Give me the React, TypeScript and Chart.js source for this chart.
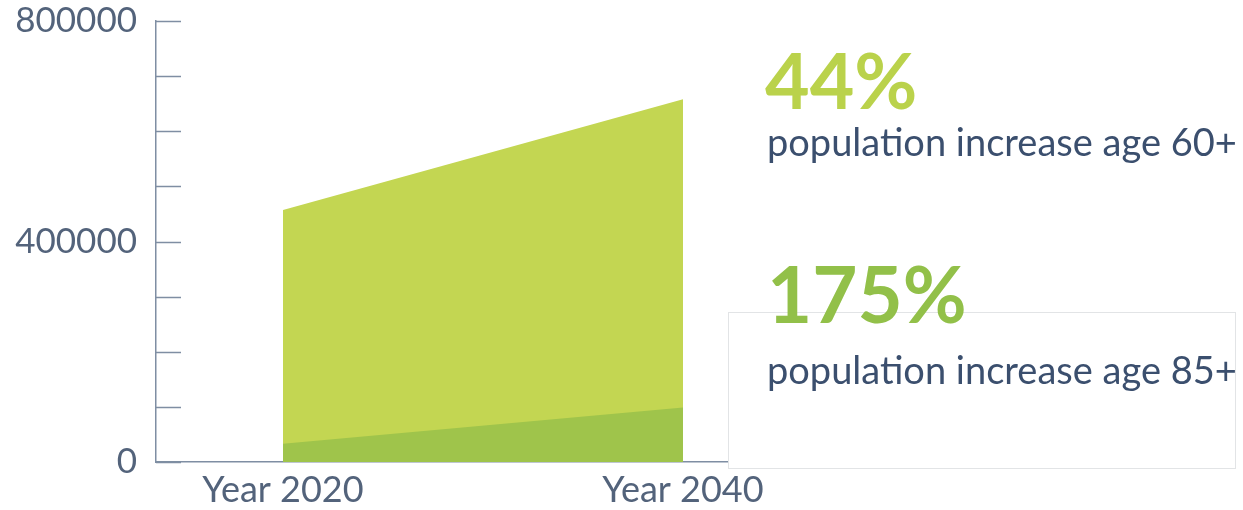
import React, { useEffect, useRef } from "react";
import { Chart, registerables } from "chart.js";

Chart.register(...registerables);

// ---- data ----
const years = [2020, 2040];
const age60Plus = [457000, 658000];
const age85Plus = [33000, 99000];
const yTicks = [0, 400000, 800000];
const xLabelPrefix = "Year ";
const increase60 = "44%";
const increase85 = "175%";
const caption60 = "population increase age 60+";
const caption85 = "population increase age 85+";

const FONT = "Lato, 'Open Sans', sans-serif";
const AXIS = "#7f8ea3";
const LABEL = "#53637b";
const NAVY = "#3b4f6e";

const insideTicks = {
  id: "insideTicks",
  afterDatasetsDraw(chart: any) {
    const { ctx, chartArea } = chart;
    const ys = chart.scales.y;
    ctx.save();
    ctx.strokeStyle = AXIS;
    ctx.lineWidth = 1.5;
    ys.ticks.forEach((t: any) => {
      const py = Math.round(ys.getPixelForValue(t.value)) + 0.5;
      ctx.beginPath();
      ctx.moveTo(chartArea.left, py);
      ctx.lineTo(chartArea.left + 25, py);
      ctx.stroke();
    });
    ctx.restore();
  },
};

const annotations = {
  id: "annotations",
  afterDraw(chart: any) {
    const { ctx } = chart;
    ctx.save();
    // box
    ctx.strokeStyle = "#e2e4e6";
    ctx.lineWidth = 1;
    ctx.strokeRect(728.5, 312.5, 507, 156);
    ctx.textAlign = "left";
    ctx.textBaseline = "alphabetic";
    ctx.fillStyle = "#bad24b";
    ctx.font = `bold 77px ${FONT}`;
    ctx.fillText(increase60, 765, 109);
    ctx.fillStyle = NAVY;
    ctx.font = `38px ${FONT}`;
    ctx.fillText(caption60, 767, 156);
    ctx.fillStyle = "#92c049";
    ctx.font = `bold 78px ${FONT}`;
    ctx.fillText(increase85, 767, 323);
    ctx.fillStyle = NAVY;
    ctx.font = `38px ${FONT}`;
    ctx.fillText(caption85, 767, 384);
    ctx.restore();
  },
};

export default function App() {
  const ref = useRef<HTMLCanvasElement>(null);

  useEffect(() => {
    if (!ref.current) return;
    const chart = new Chart(ref.current, {
      type: "line",
      data: {
        datasets: [
          {
            label: "Age 60+",
            data: years.map((x, i) => ({ x, y: age60Plus[i] })),
            backgroundColor: "#c3d652",
            borderWidth: 0,
            pointRadius: 0,
            fill: "origin",
            order: 1,
          },
          {
            label: "Age 85+",
            data: years.map((x, i) => ({ x, y: age85Plus[i] })),
            backgroundColor: "#9fc44b",
            borderWidth: 0,
            pointRadius: 0,
            fill: "origin",
            order: 0,
          },
        ],
      },
      options: {
        responsive: false,
        animation: false,
        layout: { padding: { top: 21, right: 516, left: 0, bottom: 0 } },
        plugins: {
          legend: { display: false },
          tooltip: { enabled: false },
          title: { display: false },
        },
        scales: {
          x: {
            type: "linear",
            min: 2013.65,
            max: 2042.2,
            afterBuildTicks: (s: any) => {
              s.ticks = years.map((v) => ({ value: v }));
            },
            afterFit: (s: any) => {
              s.height = 48;
              s.paddingLeft = 0;
              s.paddingRight = 0;
            },
            grid: { display: false, drawTicks: false },
            border: { display: true, color: AXIS, width: 1.5 },
            ticks: {
              color: LABEL,
              font: { family: FONT, size: 36 },
              padding: 7,
              maxRotation: 0,
              autoSkip: false,
              callback: (v: any) => xLabelPrefix + v,
            },
          },
          y: {
            min: 0,
            max: 800000,
            afterFit: (s: any) => {
              s.width = 156;
              s.paddingTop = 0;
              s.paddingBottom = 0;
            },
            grid: { drawOnChartArea: false, drawTicks: false },
            border: { display: true, color: AXIS, width: 1.5 },
            ticks: {
              stepSize: 100000,
              color: LABEL,
              font: { family: FONT, size: 35 },
              padding: 19,
              autoSkip: false,
              callback: (v: any) => (yTicks.includes(v) ? String(v) : ""),
            },
          },
        },
      },
      plugins: [insideTicks, annotations],
    });
    return () => chart.destroy();
  }, []);

  return (
    <div style={{ position: "fixed", left: 0, top: 0, width: 1243, height: 510, background: "#fff" }}>
      <canvas ref={ref} width={1243} height={510} />
    </div>
  );
}
